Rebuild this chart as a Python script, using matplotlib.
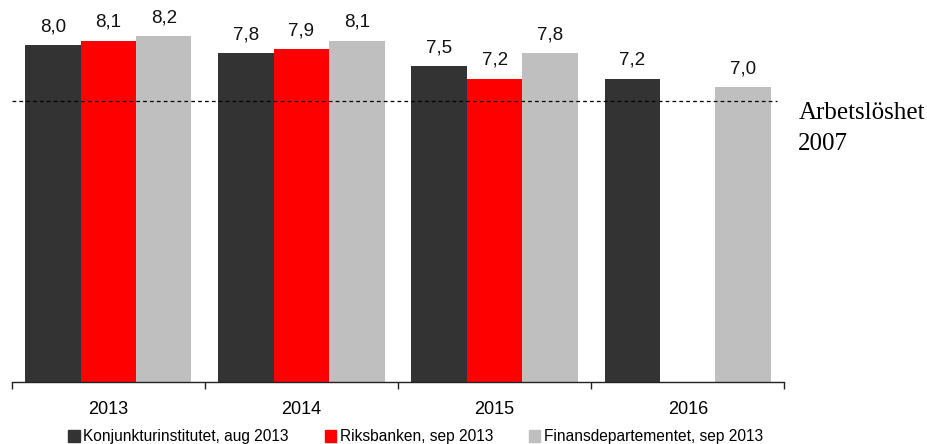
import numpy as np
import matplotlib
matplotlib.use("Agg")
import matplotlib.pyplot as plt
from matplotlib.patches import Patch

############################################
# data
############################################
years = ["2013", "2014", "2015", "2016"]
series_names = [
    "Konjunkturinstitutet, aug 2013",
    "Riksbanken, sep 2013",
    "Finansdepartementet, sep 2013",
]
ki_values = [8.0, 7.8, 7.5, 7.2]
rb_values = [8.1, 7.9, 7.2, np.nan]
fd_values = [8.2, 8.1, 7.8, 7.0]
unemployment_2007 = 6.67
ref_label = "Arbetslöshet\n2007"

colors = ["#333333", "#ff0000", "#bfbfbf"]

############################################
# figure
############################################
plt.rcParams["font.family"] = ["Liberation Sans", "DejaVu Sans"]

fig = plt.figure(figsize=(9.28, 4.44), dpi=100)
ax = fig.add_axes([0.0126, 0.1403, 0.8326, 0.8534])

x = np.arange(len(years))
width = 0.287
for i, (vals, name) in enumerate(zip([ki_values, rb_values, fd_values], series_names)):
    bars = ax.bar(x + (i - 1) * width, vals, width, color=colors[i], label=name)
    labels = ["" if np.isnan(v) else f"{v:.1f}".replace(".", ",") for v in vals]
    ax.bar_label(bars, labels=labels, padding=7, fontsize=13.5, color="#111111")

ax.axhline(unemployment_2007, xmin=0, xmax=0.99, color="black", lw=0.9,
           ls=(0, (3, 2.5)))
ax.text(1.018, unemployment_2007 - 0.02, ref_label, transform=ax.get_yaxis_transform(),
        ha="left", va="top", fontsize=18, family=["Liberation Serif"],
        linespacing=1.55)

ax.set_xlim(-0.5, len(years) - 0.5)
ax.set_ylim(0, 9)

for s in ["top", "right", "left"]:
    ax.spines[s].set_visible(False)
ax.spines["bottom"].set_color("#222222")
ax.spines["bottom"].set_linewidth(1.0)
ax.set_yticks([])

ax.set_xticks(x)
ax.set_xticklabels(years, fontsize=13)
ax.tick_params(axis="x", which="major", length=0, pad=14)
ax.set_xticks(np.arange(len(years) + 1) - 0.5, minor=True)
ax.tick_params(axis="x", which="minor", length=5, width=1.0, color="#222222")

handles = [Patch(color=c) for c in colors]
fig.legend(handles, series_names, loc="center", bbox_to_anchor=(0.448, 0.016),
           ncol=3, frameon=False, fontsize=11.2, handlelength=0.72,
           handleheight=0.72, handletextpad=0.25, columnspacing=2.3)

fig.savefig("out.png", dpi=100)
